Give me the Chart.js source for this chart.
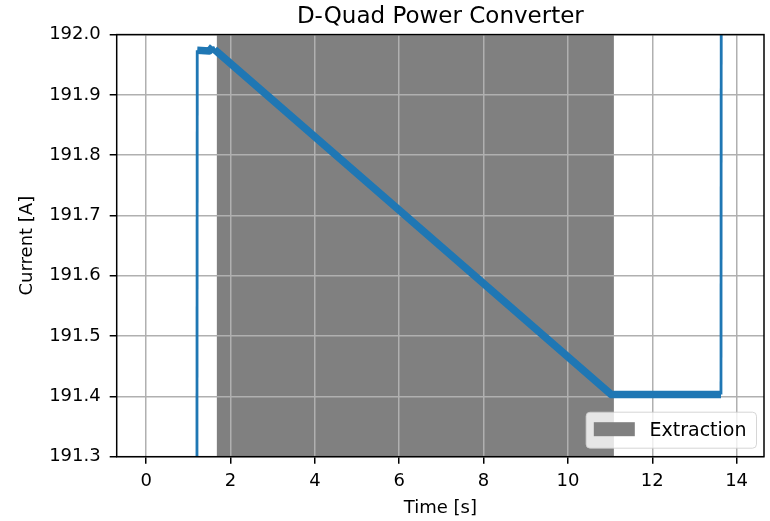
<!DOCTYPE html>
<html>
<head>
<meta charset="utf-8">
<script src="https://cdn.jsdelivr.net/npm/chart.js@4/dist/chart.umd.min.js"></script>
<style>
    body { margin: 0; background: #fff; }
    #wrap { width: 770px; height: 521px; position: relative; }
</style>
</head>
<body>
<div id="wrap"><canvas id="myChart"></canvas></div>
<script>
// Données
const timeS = [0, 1.20, 1.21, 1.50, 1.58, 1.62, 1.69, 11.03, 13.63, 13.64, 13.95];
const currentA = [191.0, 191.0, 191.974, 191.973, 191.980, 191.975, 191.971, 191.403, 191.403, 192.5, 192.5];

// Zone d'extraction (début, fin)
const extractionStart = [1.675];
const extractionEnd = [11.09];
const extractionLabel = 'Extraction';

// Graduations
const xTicks = [0, 2, 4, 6, 8, 10, 12, 14];
const yTicks = [191.3, 191.4, 191.5, 191.6, 191.7, 191.8, 191.9, 192.0];

const FONT = 'DejaVu Sans';

// Points pour Chart.js
let points = [];
for (let i = 0; i < timeS.length; i++) {
    points.push({ x: timeS[i], y: currentA[i] });
}

// Zone grise, sous la grille
const spanPlugin = {
    id: 'span',
    beforeDraw(chart) {
        const ctx = chart.ctx;
        const a = chart.chartArea;
        const x = chart.scales.x;
        ctx.save();
        ctx.fillStyle = '#808080';
        for (let i = 0; i < extractionStart.length; i++) {
            const x0 = x.getPixelForValue(extractionStart[i]);
            const x1 = x.getPixelForValue(extractionEnd[i]);
            ctx.fillRect(x0, a.top, x1 - x0, a.bottom - a.top);
        }
        ctx.restore();
    }
};

// Cadre + légende en bas à droite
const framePlugin = {
    id: 'frame',
    afterDraw(chart) {
        const ctx = chart.ctx;
        const a = chart.chartArea;
        ctx.save();
        ctx.strokeStyle = '#000';
        ctx.lineWidth = 1.5;
        ctx.strokeRect(a.left, a.top, a.right - a.left, a.bottom - a.top);

        // Légende
        ctx.font = '19px "' + FONT + '"';
        const tw = ctx.measureText(extractionLabel).width;
        const w = 7.7 + 41 + 14.7 + tw + 10;
        const h = 36;
        const bx = a.right - 7.5 - w;
        const by = a.bottom - 8.5 - h;
        ctx.beginPath();
        ctx.roundRect(bx, by, w, h, 4);
        ctx.fillStyle = 'rgba(255,255,255,0.8)';
        ctx.fill();
        ctx.lineWidth = 1;
        ctx.strokeStyle = 'rgba(204,204,204,0.8)';
        ctx.stroke();
        ctx.fillStyle = '#808080';
        ctx.fillRect(bx + 7.7, by + 10, 41, 14);
        ctx.fillStyle = '#000';
        ctx.textBaseline = 'middle';
        ctx.fillText(extractionLabel, bx + 7.7 + 41 + 14.7, by + h / 2 + 1);
        ctx.restore();
    }
};

const ctx = document.getElementById('myChart');

new Chart(ctx, {
    type: 'line',
    data: {
        datasets: [{
            data: points,
            borderColor: '#1f77b4',
            borderWidth: 7.5,
            borderCapStyle: 'butt',
            borderJoinStyle: 'round',
            pointRadius: 0,
            tension: 0,
            clip: 0,
            segment: {
                // les sauts verticaux sont fins, le reste est bruité (épais)
                borderWidth: c => Math.abs(c.p1.parsed.x - c.p0.parsed.x) < 0.05 ? 2.8 : 7.5
            }
        }]
    },
    options: {
        responsive: true,
        maintainAspectRatio: false,
        animation: false,
        layout: { padding: { left: 0, right: 6, top: 0, bottom: 0 } },
        plugins: {
            legend: { display: false },
            tooltip: { enabled: false },
            title: {
                display: true,
                fullSize: false,
                text: 'D-Quad Power Converter',
                color: '#000',
                font: { family: FONT, size: 23, weight: 'normal', lineHeight: 1.2 },
                padding: { top: 3.5, bottom: 3.5 }
            }
        },
        scales: {
            x: {
                type: 'linear',
                min: -0.7,
                max: 14.65,
                afterBuildTicks: s => { s.ticks = xTicks.map(v => ({ value: v })); },
                afterFit: s => { s.height = 64.3; },
                grid: { color: '#b0b0b0', lineWidth: 1.5, tickColor: '#000', tickLength: 7 },
                border: { display: false },
                ticks: {
                    color: '#000',
                    font: { family: FONT, size: 18 },
                    padding: 7,
                    maxRotation: 0,
                    callback: v => String(v)
                },
                title: {
                    display: true,
                    text: 'Time [s]',
                    color: '#000',
                    font: { family: FONT, size: 18 },
                    padding: { top: 1.5, bottom: 1.5 }
                }
            },
            y: {
                min: 191.3,
                max: 192.0,
                afterBuildTicks: s => { s.ticks = yTicks.map(v => ({ value: v })); },
                afterFit: s => { s.width = 116.7; },
                grid: { color: '#b0b0b0', lineWidth: 1.5, tickColor: '#000', tickLength: 7 },
                border: { display: false },
                ticks: {
                    color: '#000',
                    font: { family: FONT, size: 18 },
                    padding: 9,
                    callback: v => Number(v).toFixed(1)
                },
                title: {
                    display: true,
                    text: 'Current [A]',
                    color: '#000',
                    font: { family: FONT, size: 18 },
                    padding: { top: 17, bottom: 17 }
                }
            }
        }
    },
    plugins: [spanPlugin, framePlugin]
});
</script>
</body>
</html>
